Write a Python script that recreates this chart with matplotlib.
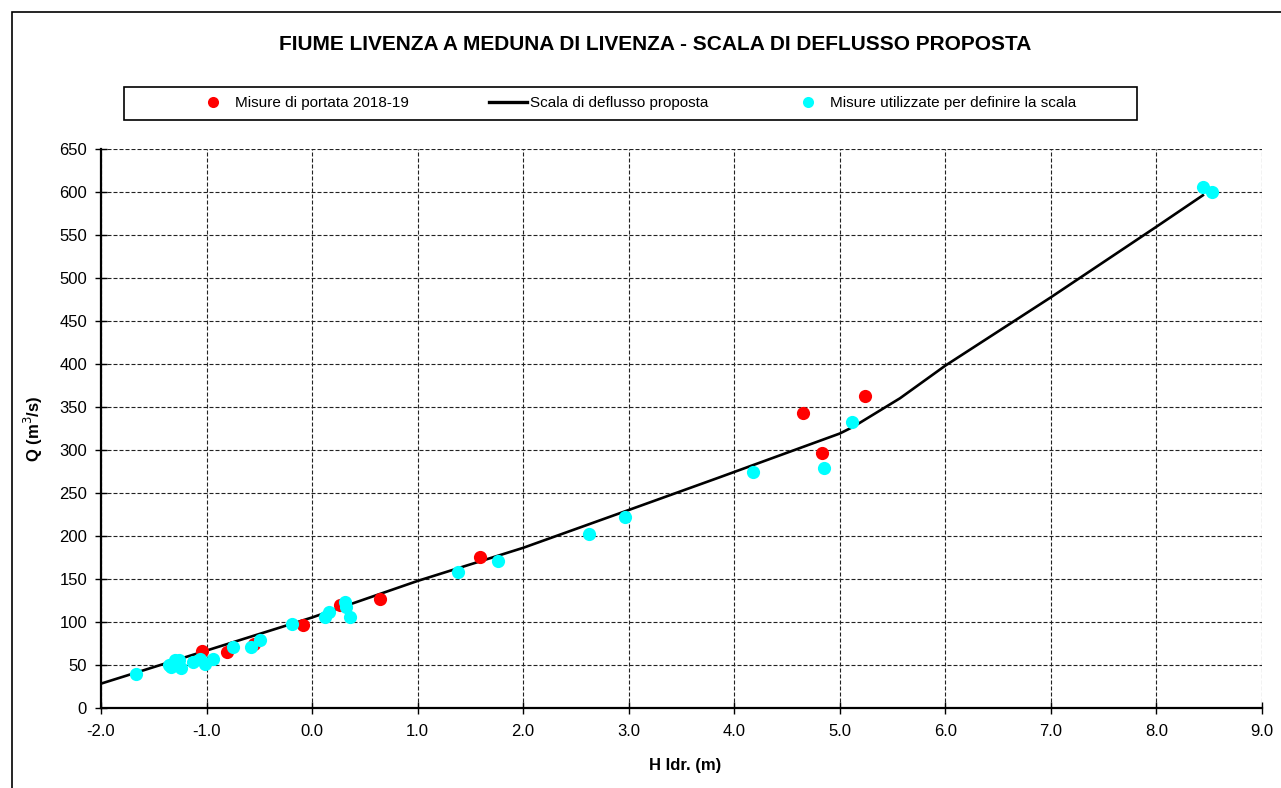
import numpy as np
import matplotlib.pyplot as plt
from matplotlib.lines import Line2D
from matplotlib.patches import Rectangle

plt.rcParams['font.family'] = ['Liberation Sans', 'DejaVu Sans']
plt.rcParams['axes.unicode_minus'] = False

# Misure di portata 2018-19
h_misure = [-1.04, -0.81, -0.555, -0.087, 0.261, 0.64, 1.588, 4.652, 4.827, 5.237]
q_misure = [66, 65, 74, 96, 119.5, 126, 175.7, 342.5, 296.7, 363]

# Misure utilizzate per definire la scala
h_util = [-1.666, -1.351, -1.303, -1.263, -1.24, -1.335, -1.13, -1.066, -1.01, -0.943,
          -0.751, -0.576, -0.498, -0.188, 0.118, 0.159, 0.308, 0.318, 0.355,
          1.382, 1.761, 2.624, 2.969, 4.178, 4.851, 5.111, 8.443, 8.523]
q_util = [38.9, 49.7, 55.5, 55.5, 46.2, 47.7, 53.5, 56.7, 50.8, 56.7,
          71, 71, 78.8, 97, 105.9, 111, 123.3, 117.5, 105.9,
          158.2, 171, 201.7, 222.2, 274.6, 279.2, 332.8, 606, 599.6]

# Scala di deflusso proposta
h_scala = [-2.0, 0.0, 1.0, 2.0, 3.0, 3.86, 5.0, 5.13, 5.57, 6.0, 7.0, 8.0, 8.45]
q_scala = [28, 105, 147.5, 186, 230, 268, 319, 327, 360, 398, 477.5, 559.6, 597]

titolo = 'FIUME LIVENZA A MEDUNA DI LIVENZA - SCALA DI DEFLUSSO PROPOSTA'

W, H = 1281, 788
fig = plt.figure(figsize=(W / 100, H / 100), dpi=100)
ax = fig.add_axes([101 / W, 1 - 707.7 / H, 1161 / W, 558.7 / H])

ax.plot(h_scala, q_scala, color='black', lw=1.9, zorder=3, solid_capstyle='butt')
ax.plot(h_misure, q_misure, 'o', color='#ff0000', ms=9.5, mec='none', zorder=4)
ax.plot(h_util, q_util, 'o', color='#00ffff', ms=9.5, mec='none', zorder=5)

ax.set_xlim(-2, 9)
ax.set_ylim(0, 650)
ax.set_xticks(np.arange(-2, 9.01, 1))
ax.set_yticks(np.arange(0, 651, 50))
ax.set_xticklabels([f'{v:.1f}' for v in np.arange(-2, 9.01, 1)])
ax.tick_params(direction='inout', length=8, width=1, labelsize=12, color='black')
ax.tick_params(axis='x', pad=8)
ax.tick_params(axis='y', pad=6)

ax.grid(True, color='#222222', lw=0.8, linestyle=(0, (3.6, 1.8)))
ax.set_axisbelow(True)
for s in ('top', 'right'):
    ax.spines[s].set_visible(False)
for s in ('left', 'bottom'):
    ax.spines[s].set_linewidth(1.6)
    ax.spines[s].set_zorder(6)

ax.set_xlabel('H Idr. (m)', fontsize=12, fontweight='bold')
ax.xaxis.set_label_coords(0.503, -0.1026)
ax.xaxis.label.set_va('center')
ax.set_ylabel('Q (m$^3$/s)', fontsize=12, fontweight='bold')
ax.yaxis.set_label_coords(-0.0586, 0.5)
ax.yaxis.label.set_va('center')

fig.text(655 / W, 1 - 44.5 / H, titolo, ha='center', va='center',
         fontsize=15, fontweight='bold')

# cornice esterna e riquadro della legenda
fig.patches.append(Rectangle((11.5 / W, -0.05), 1.2, 1 - 11.5 / H + 0.05,
                             transform=fig.transFigure, fill=False,
                             ec='black', lw=1.2))
fig.patches.append(Rectangle((124 / W, 1 - 120 / H), 1013 / W, 33 / H,
                             transform=fig.transFigure, fill=False,
                             ec='black', lw=1.2))

handles = [
    Line2D([], [], marker='o', ls='none', color='#ff0000', ms=8, mec='none'),
    Line2D([], [], color='black', lw=2.4),
    Line2D([], [], marker='o', ls='none', color='#00ffff', ms=8, mec='none'),
]
labels = ['Misure di portata 2018-19', 'Scala di deflusso proposta',
          'Misure utilizzate per definire la scala']
fig.legend(handles, labels, loc='center', bbox_to_anchor=(635 / W, 1 - 103.5 / H),
           ncol=3, frameon=False, fontsize=11, handlelength=2.5,
           handletextpad=0.2, columnspacing=5.25, borderpad=0)

fig.savefig('out.png', dpi=100)
